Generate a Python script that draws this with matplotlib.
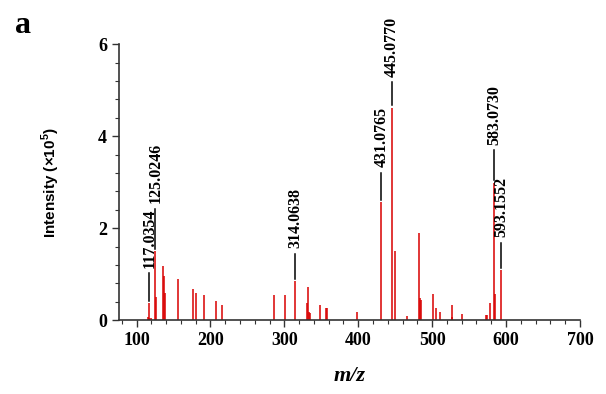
import numpy as np
import matplotlib.pyplot as plt
from matplotlib.ticker import MultipleLocator

# peak list: m/z and intensity (x10^5)
mz = [115.5, 116.5, 117.0354, 119.0, 125.0246, 126.5, 135.5, 137.0, 138.5,
      155.5, 175.8, 180.3, 190.7, 207.9, 215.0,
      286.5, 300.3, 314.0638, 330.8, 332.0, 333.5, 334.5, 348.7, 356.0, 357.5,
      398.8,
      431.0765, 445.0770, 450.0, 466.5, 482.8, 484.0, 484.6, 501.8, 505.0,
      511.0, 526.6, 527.5, 540.0, 573.0, 574.5, 578.6, 583.0730, 585.0,
      593.1552]
intensity = [0.08, 0.05, 0.38, 0.04, 1.50, 0.50, 1.18, 0.96, 0.60,
             0.89, 0.68, 0.59, 0.54, 0.43, 0.33,
             0.54, 0.56, 0.85, 0.38, 0.73, 0.19, 0.15, 0.33, 0.26, 0.26,
             0.17,
             2.57, 4.62, 1.51, 0.09, 1.90, 0.48, 0.45, 0.58, 0.27,
             0.18, 0.33, 0.07, 0.14, 0.12, 0.12, 0.38, 2.99, 0.58,
             1.09]

label_mz = [117.0354, 125.0246, 314.0638, 431.0765, 445.0770, 583.0730, 593.1552]
label_text = ['117.0354', '125.0246', '314.0638', '431.0765', '445.0770',
              '583.0730', '593.1552']
# length of the marker line above each labelled peak (in y units)
line_len = [0.59, 0.87, 0.54, 0.59, 0.50, 0.65, 0.54]

plt.rcParams['font.family'] = ['Liberation Serif', 'DejaVu Serif']
plt.rcParams['font.weight'] = 'bold'
plt.rcParams['mathtext.fontset'] = 'custom'
plt.rcParams['mathtext.rm'] = 'Liberation Sans:bold'
plt.rcParams['mathtext.bf'] = 'Liberation Sans:bold'

fig = plt.figure(figsize=(6.06, 3.94), dpi=100)
ax = fig.add_axes([0.196, 0.187, 0.761, 0.701])

ax.vlines(mz, 0, intensity, colors='#d80000', linewidth=1.1)

mz_arr = np.array(mz)
for lm, lt, L in zip(label_mz, label_text, line_len):
    h = intensity[int(np.argmin(np.abs(mz_arr - lm)))]
    y0 = h + 0.05
    ax.plot([lm, lm], [y0, y0 + L], color='black', linewidth=1.1)
    ax.annotate(lt, xy=(lm, y0 + L), xytext=(0.5, 4), textcoords='offset points',
                rotation=90, ha='center', va='bottom', fontsize=11.5,
                fontweight='bold')

ax.set_xlim(76, 700)
ax.set_ylim(0, 6)
ax.xaxis.set_major_locator(MultipleLocator(100))
ax.xaxis.set_minor_locator(MultipleLocator(20))
ax.yaxis.set_major_locator(MultipleLocator(2))
ax.yaxis.set_minor_locator(MultipleLocator(0.4))
ax.tick_params(which='major', direction='out', length=5, width=1, labelsize=13,
               color='#333333')
ax.tick_params(which='minor', direction='out', length=3, width=0.8, color='#333333')
for lab in ax.get_xticklabels() + ax.get_yticklabels():
    lab.set_fontweight('bold')

for s in ['top', 'right']:
    ax.spines[s].set_visible(False)
for s in ['left', 'bottom']:
    ax.spines[s].set_linewidth(1.2)
    ax.spines[s].set_color('#333333')

ax.set_ylabel(r'Intensity (×10$^{5}$)', fontsize=11, fontweight='bold',
              family=['Liberation Sans', 'DejaVu Sans'], labelpad=26)
ax.set_xlabel('m/z', fontsize=16, fontweight='bold', style='italic', labelpad=12)

fig.text(0.025, 0.915, 'a', fontsize=23, fontweight='bold')

fig.savefig('out.png', dpi=100)
